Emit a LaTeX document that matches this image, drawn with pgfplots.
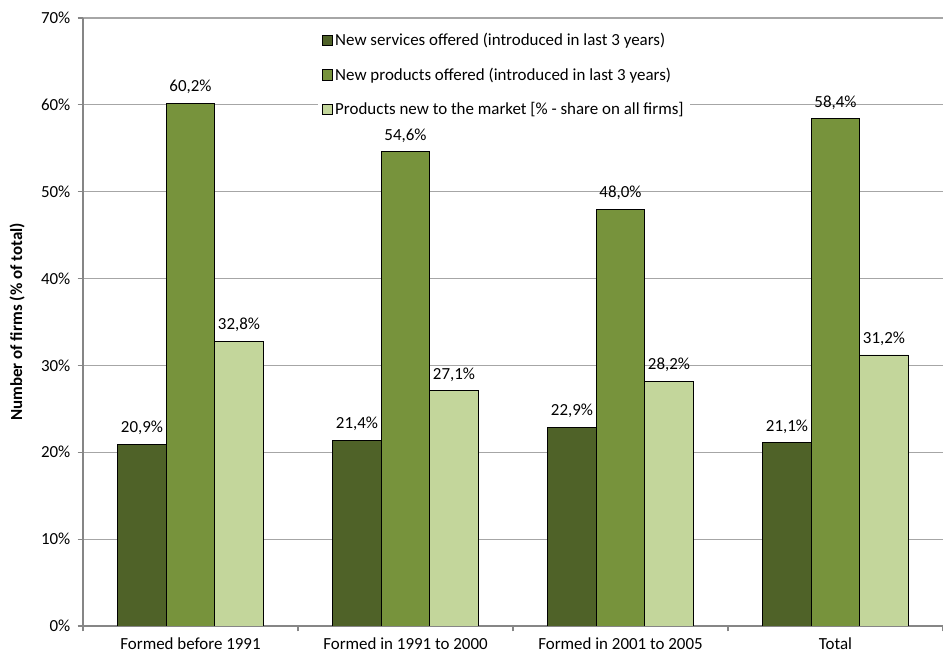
\documentclass[border=0pt]{standalone}
\usepackage{pgfplots}
\pgfplotsset{compat=1.18}
\usepackage{fontspec}
\setmainfont{Carlito}
\definecolor{c1}{HTML}{4F6228}
\definecolor{c2}{HTML}{77933C}
\definecolor{c3}{HTML}{C3D69B}
\definecolor{gridc}{HTML}{A6A6A6}
\definecolor{axc}{HTML}{868686}
\begin{document}
\begin{tikzpicture}
\useasboundingbox (-62.25pt,-27.75pt) rectangle (645pt,469.5pt);
\begin{axis}[
 at={(0,0)}, anchor=south west,
 scale only axis, width=645pt, height=456pt,
 xmin=-0.5, xmax=3.5, ymin=0, ymax=70,
 axis x line=bottom, axis y line=left,
 axis line style={draw=axc, line width=0.8pt, -},
 /pgf/number format/assume math mode=true,
 font=\fontsize{12.7pt}{15pt}\selectfont,
 ytick={0,10,...,70},
 yticklabel={\pgfmathprintnumber{\tick}\%},
 yticklabel style={xshift=-2pt},
 xticklabel style={yshift=-1.5pt},
 ymajorgrids, grid style={gridc, line width=0.8pt},
 xtick={0,1,2,3},
 xticklabels={Formed before 1991, Formed in 1991 to 2000, Formed in 2001 to 2005, Total},
 major x tick style={draw=none},
 minor xtick={-0.5,0.5,1.5,2.5,3.5},
 tick align=outside,
 major tick length=4pt, minor tick length=4pt,
 tick style={axc, line width=0.8pt},
 ylabel={\bfseries Number of firms (\% of total)},
 every axis y label/.style={at={([xshift=-49.5pt]axis description cs:0,0.5)}, rotate=90, anchor=center},
 ybar, bar width=0.2256,
 nodes near coords={\pgfmathprintnumber[fixed, fixed zerofill, precision=1, use comma]{\pgfplotspointmeta}\%},
 nodes near coords style={font=\fontsize{12.7pt}{15pt}\selectfont, text=black, yshift=3.5pt},
 legend style={at={(0.273,0.985)}, anchor=north west, draw=none, fill=white, row sep=11.4pt, font=\fontsize{12.7pt}{15pt}\selectfont, cells={anchor=west}},
 legend image code/.code={\draw[#1, draw=black] (0pt,-3.8pt) rectangle (7.5pt,3.8pt);},
]
\addplot[fill=c1, draw=black, bar shift=-0.2256] coordinates {(0,20.9) (1,21.4) (2,22.9) (3,21.1)};
\addplot[fill=c2, draw=black, bar shift=0] coordinates {(0,60.2) (1,54.6) (2,48.0) (3,58.4)};
\addplot[fill=c3, draw=black, bar shift=0.2256] coordinates {(0,32.8) (1,27.1) (2,28.2) (3,31.2)};
\legend{New services offered (introduced in last 3 years), New products offered (introduced in last 3 years), Products new to the market [\% - share on all firms]}
\end{axis}
\end{tikzpicture}
\end{document}
